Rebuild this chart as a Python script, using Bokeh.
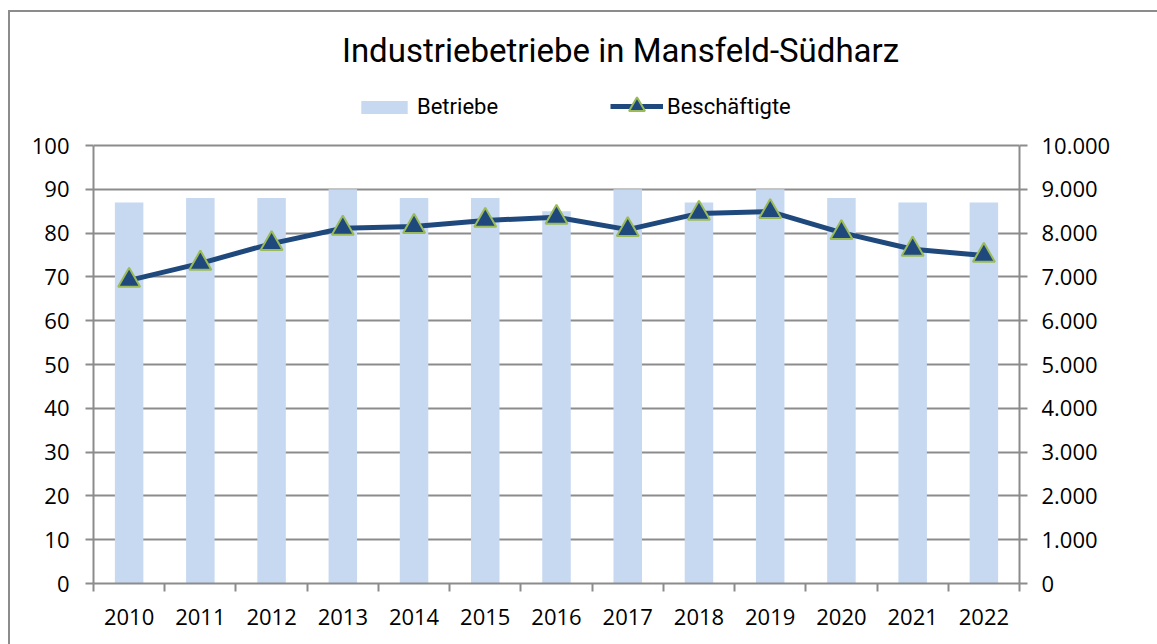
from bokeh.plotting import figure
from bokeh.models import (Range1d, LinearAxis, FixedTicker, CustomJSTickFormatter,
                          Legend, LegendItem, ColumnDataSource, Label)
from bokeh.embed import file_html
from bokeh.resources import INLINE

# ---- data ----
years = ["2010", "2011", "2012", "2013", "2014", "2015", "2016",
         "2017", "2018", "2019", "2020", "2021", "2022"]
betriebe = [87, 88, 88, 90, 88, 88, 85, 90, 87, 90, 88, 87, 87]
beschaeftigte = [6920, 7310, 7760, 8110, 8150, 8290, 8360, 8080, 8450, 8490, 8010, 7630, 7490]
left_ticks = [0, 10, 20, 30, 40, 50, 60, 70, 80, 90, 100]
right_ticks = [0, 1000, 2000, 3000, 4000, 5000, 6000, 7000, 8000, 9000, 10000]
title_text = "Industriebetriebe in Mansfeld-Südharz"

xpos = [i + 0.5 for i in range(len(years))]
src = ColumnDataSource(dict(x=xpos, year=years, b=betriebe, e=beschaeftigte))

W, H = 1157, 644
FL, FR, FB = 93, 1019, 583          # frame edges in pixels
px_per_unit = (FB - 145) / 100.0    # 100 on the left axis sits at y=145
ytop = FB / px_per_unit             # frame reaches the top of the canvas

TITLEFONT = "Roboto"
TICKFONT = "Open Sans"
GRID = "#8c8c8c"

p = figure(width=W, height=H, output_backend="svg", toolbar_location=None,
           x_range=Range1d(0, len(years)), y_range=Range1d(0, ytop),
           min_border_left=FL, min_border_right=W - FR, min_border_top=0,
           min_border_bottom=H - FB)
p.styles = {"box-shadow": "inset 8px 10px 0 0 #ffffff, inset 10px 12px 0 0 #8c8c8c"}
p.border_fill_alpha = 0
p.background_fill_alpha = 0
p.outline_line_color = None
p.extra_y_ranges = {"emp": Range1d(0, ytop * 100)}

# bars
vb = p.vbar(x="x", top="b", width=0.4, source=src, fill_color="#C6D9F1",
            line_color=None)
# line
ln = p.line(x="x", y="e", source=src, y_range_name="emp", line_color="#1F497D",
            line_width=5)
sc = p.scatter(x="x", y="e", source=src, y_range_name="emp", marker="triangle",
               size=22, fill_color="#1F497D", line_color="#9BBB59", line_width=2)

# x axis
xa = p.xaxis[0]
xa.ticker = FixedTicker(ticks=xpos, minor_ticks=list(range(len(years) + 1)))
xa.major_label_overrides = {x: y for x, y in zip(xpos, years)}
xa.major_tick_out = 0
xa.major_tick_in = 0
xa.minor_tick_out = 8
xa.minor_tick_in = 0
xa.minor_tick_line_color = GRID
xa.minor_tick_line_width = 2
xa.axis_line_color = GRID
xa.axis_line_width = 2
xa.major_label_standoff = 17
xa.major_label_text_font = TICKFONT
xa.major_label_text_font_size = "22px"
xa.major_label_text_color = "#000000"
p.xgrid.visible = False

# left axis
ya = p.yaxis[0]
ya.ticker = FixedTicker(ticks=left_ticks)
ya.bounds = (0, 100)
ya.major_tick_out = 8
ya.major_tick_in = 0
ya.minor_tick_line_color = None
ya.major_tick_line_color = GRID
ya.major_tick_line_width = 2
ya.axis_line_color = GRID
ya.axis_line_width = 2
ya.major_label_standoff = 16
ya.major_label_text_font = TICKFONT
ya.major_label_text_font_size = "22px"
ya.major_label_text_color = "#000000"
p.ygrid.ticker = FixedTicker(ticks=left_ticks)
p.ygrid.grid_line_color = GRID
p.ygrid.grid_line_width = 2

# right axis
ra = LinearAxis(y_range_name="emp", ticker=FixedTicker(ticks=right_ticks),
                formatter=CustomJSTickFormatter(
                    code="return tick.toFixed(0).replace(/\\B(?=(\\d{3})+(?!\\d))/g, '.');"))
ra.bounds = (0, 10000)
ra.major_tick_out = 8
ra.major_tick_in = 0
ra.minor_tick_line_color = None
ra.major_tick_line_color = GRID
ra.major_tick_line_width = 2
ra.axis_line_color = GRID
ra.axis_line_width = 2
ra.major_label_standoff = 14
ra.major_label_text_font = TICKFONT
ra.major_label_text_font_size = "22px"
ra.major_label_text_color = "#000000"
p.add_layout(ra, "right")

# title (inside the frame area above the plotted range)
unit_x = (FR - FL) / len(years)
title = Label(x=(620 - FL) / unit_x, y=(FB - 50) / px_per_unit, text=title_text,
              text_align="center", text_baseline="middle",
              text_font=TITLEFONT, text_font_size="33px", text_color="#000000")
p.add_layout(title)

# legends (two, so the bar swatch and the line marker get their own sizes)
common = dict(orientation="horizontal", padding=0, margin=0, border_line_color=None,
              background_fill_alpha=0, label_text_font=TITLEFONT,
              label_text_font_size="22px", label_text_color="#000000")
leg1 = Legend(items=[LegendItem(label="Betriebe", renderers=[vb])],
              location=(355 - FL, FB - 119), glyph_width=58, glyph_height=16,
              label_standoff=4, **common)
leg2 = Legend(items=[LegendItem(label="Beschäftigte", renderers=[ln, sc])],
              location=(610 - FL, FB - 126), glyph_width=53, glyph_height=40,
              label_standoff=4, **common)
p.add_layout(leg1, "center")
p.add_layout(leg2, "center")

open("out.html", "w").write(file_html(p, INLINE))
